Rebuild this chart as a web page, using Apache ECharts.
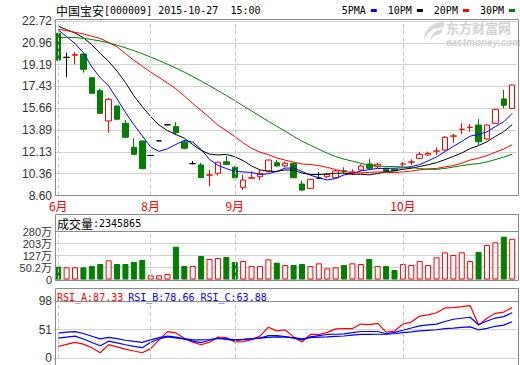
<!DOCTYPE html>
<html><head><meta charset="utf-8">
<script src="https://cdn.jsdelivr.net/npm/echarts@6/dist/echarts.min.js"></script>
<style>html,body{margin:0;padding:0;background:#fff}#c{width:520px;height:365px}</style>
</head><body><div id="c"></div>
<script>
// ---- data ----
const days = Array.from({length: 55}, (_, i) => 'T' + (i + 1));
const monthAt = [0, 11, 21, 41];
const monthNames = ['6月', '8月', '9月', '10月'];

const openP  = [21.72,19.78,19.95,20.05,18.13,17.08,14.63,15.84,14.44,12.50,13.01,11.84,13.02,14.32,14.17,12.93,11.18,11.07,10.25,10.40,11.33,10.88,9.26,10.00,10.12,10.58,11.25,10.99,11.21,9.53,9.18,10.00,10.12,10.04,10.60,10.48,10.66,11.15,10.93,10.80,10.72,11.14,11.30,11.61,11.88,12.19,12.28,13.40,13.95,14.11,14.30,13.17,14.44,16.41,15.65];
const closeP = [19.56,19.78,20.00,18.81,16.87,15.25,16.38,14.77,13.31,11.93,10.77,11.84,13.02,14.32,13.68,12.42,11.18,10.06,10.26,11.29,11.12,10.04,9.85,10.04,10.40,11.47,10.99,11.21,10.04,9.04,9.91,10.00,10.32,10.58,10.56,10.50,10.99,10.80,11.12,10.53,10.60,11.15,11.31,11.93,12.01,12.20,13.31,13.42,13.96,14.12,12.95,14.30,15.57,15.90,17.54];
const lowP   = [19.50,18.16,19.21,18.54,16.85,15.22,13.68,14.74,13.28,11.90,10.72,11.84,13.02,14.32,13.49,12.34,11.12,9.99,9.34,10.20,11.08,9.99,9.04,9.99,9.85,10.44,10.93,10.88,10.00,8.96,9.15,9.95,9.99,10.00,10.40,10.26,10.60,10.66,10.80,10.50,10.55,10.93,11.07,11.53,11.80,11.88,12.25,12.87,13.58,13.76,12.69,13.10,14.40,15.65,15.60];
const highP  = [21.75,20.15,20.21,20.08,18.19,17.22,16.49,15.88,14.71,13.23,13.04,11.84,13.02,14.32,14.53,13.09,11.39,11.25,10.66,11.31,11.82,10.99,10.26,10.53,10.66,11.50,11.47,11.33,11.25,9.80,9.95,10.50,10.44,10.72,10.88,10.72,11.12,11.53,11.25,10.85,10.78,11.33,11.53,12.14,12.14,12.50,13.41,13.58,14.44,14.38,14.77,14.35,15.60,17.14,17.60];

const ma5  = [22.00,21.45,20.90,20.15,19.00,18.14,17.46,16.42,15.32,14.33,13.43,12.52,12.17,12.38,12.73,13.06,12.92,12.33,11.52,11.04,10.78,10.55,10.51,10.47,10.29,10.36,10.55,10.82,10.82,10.55,10.24,10.04,9.86,9.97,10.27,10.39,10.59,10.69,10.79,10.79,10.81,10.84,10.94,11.10,11.40,11.72,12.15,12.57,12.98,13.40,13.55,13.75,14.18,14.57,15.25];
const ma10 = [22.30,22.02,21.75,21.37,20.80,20.10,19.45,18.67,17.74,16.67,15.79,14.99,14.30,13.85,13.53,13.24,12.72,12.25,11.95,11.88,11.92,11.74,11.42,10.99,10.67,10.57,10.55,10.67,10.65,10.42,10.30,10.30,10.34,10.40,10.41,10.32,10.32,10.27,10.38,10.53,10.60,10.72,10.81,10.95,11.09,11.26,11.50,11.76,12.04,12.40,12.64,12.95,13.38,13.77,14.33];
const ma20 = [22.05,21.94,21.80,21.67,21.49,21.31,20.98,20.63,20.09,19.54,19.06,18.59,18.15,17.70,17.24,16.65,16.04,15.48,14.91,14.28,13.85,13.37,12.86,12.42,12.10,11.91,11.64,11.46,11.30,11.15,11.11,11.02,10.88,10.70,10.54,10.44,10.43,10.47,10.51,10.48,10.45,10.51,10.58,10.67,10.75,10.79,10.91,11.02,11.21,11.47,11.62,11.83,12.10,12.36,12.71];
const ma30 = [21.40,21.40,21.38,21.32,21.22,21.10,20.95,20.76,20.55,20.32,20.07,19.80,19.52,19.22,18.91,18.58,18.23,17.86,17.48,17.09,16.69,16.28,15.86,15.44,15.02,14.60,14.20,13.80,13.39,12.99,12.67,12.34,12.02,11.75,11.54,11.38,11.20,11.06,10.99,10.95,10.94,10.92,10.86,10.78,10.72,10.72,10.79,10.90,11.02,11.12,11.18,11.32,11.51,11.71,11.94];

// volume in 万 (10k)
const volume = [55.9,51.6,51.6,51.6,60.1,72.9,96.5,72.9,72.9,85.8,98.6,0.3,0.3,8.9,184.0,60.1,60.1,124.2,105.0,111.4,117.8,85.8,92.2,60.1,60.1,102.9,81.5,66.5,66.5,72.9,60.1,77.2,45.2,51.6,66.5,77.2,72.9,105.0,60.1,60.1,34.5,72.9,66.5,92.2,66.5,115.7,147.8,130.6,147.8,92.2,149.9,194.7,211.9,248.2,234.6];

const rsiA = [22.9,26.5,29.8,26.9,20.9,12.7,26.1,22.4,18.7,15.5,12.6,19.5,33.8,47.5,45.4,36.7,30.1,25.9,30.1,38.6,37.7,30.5,31.1,34.3,40.1,54.8,48.7,50.2,38.8,30.3,42.8,42.8,46.2,52.1,52.6,52.6,60.0,58.9,61.0,46.6,48.3,60.1,63.2,73.1,75.2,78.6,86.5,87.2,88.7,90.5,58.3,69.4,77.7,79.8,87.33];
const rsiB = [36.9,38.5,40.0,35.4,29.6,24.3,31.7,29.0,25.9,23.1,21.0,29.9,35.4,38.8,37.2,35.1,31.8,29.3,33.3,36.9,34.6,33.0,34.3,35.5,36.9,40.9,40.9,39.1,36.9,33.9,38.8,40.9,42.8,43.2,43.8,45.7,47.7,47.7,47.7,44.0,46.3,49.7,53.4,57.1,58.6,59.8,64.2,67.9,69.6,71.2,58.9,65.1,69.9,72.2,78.66];
const rsiC = [45.1,46.6,47.5,44.4,39.8,35.5,38.0,36.0,33.3,31.4,29.8,33.8,37.5,40.1,38.5,36.1,33.9,33.9,34.5,36.4,35.5,34.0,34.8,35.8,36.9,37.9,38.8,38.3,37.7,35.4,37.7,38.3,38.9,39.7,40.3,41.6,42.8,43.1,43.2,43.5,44.0,45.9,47.1,48.7,49.7,50.6,52.4,53.3,54.5,55.4,50.5,52.8,56.3,58.3,63.88];

const priceTicks = ['8.60','10.36','12.13','13.89','15.66','17.43','19.19','20.96','22.72'];
const volTicks = ['0','50.2万','127万','203万','280万'];
const rsiTicks = ['0','51','98'];

// ---- chart ----
const PMIN = 8.60, PMAX = 22.72, PSTEP = (PMAX - PMIN) / 8;
const VOL_FLOOR = 26.4, VSTEP = 76.6;       // bars rise from the panel floor, below zero
const FRAME = '#8a8a8a', GRID = '#d2d2d2', DASH = '#c8c8c8';
const labFont = "'Liberation Sans', Arial, 'Noto Sans CJK SC', sans-serif";
const mono = "'DejaVu Sans Mono', 'Liberation Mono', monospace";
const cjk = "'Noto Sans CJK SC', sans-serif";

const chart = echarts.init(document.getElementById('c'), null, {renderer: 'svg'});

function xAx(gi, showLabel) {
  return {
    type: 'category', gridIndex: gi, data: days, boundaryGap: true,
    axisLine: {show: false}, axisTick: {show: false}, splitLine: {show: false},
    axisLabel: showLabel ? {
      show: true, interval: (idx) => monthAt.includes(idx),
      formatter: (v, idx) => monthNames[monthAt.indexOf(idx)] || '',
      color: '#ff0000', fontSize: 12, fontFamily: cjk, margin: 4
    } : {show: false}
  };
}
function yAx(gi, min, max, interval, fmt, fs, lh) {
  return {
    type: 'value', gridIndex: gi, min, max, interval, scale: true,
    axisLine: {show: false}, axisTick: {show: false},
    splitLine: {show: true, lineStyle: {color: GRID, width: 1}},
    axisLabel: {color: '#333', fontSize: fs, lineHeight: lh, fontFamily: labFont, margin: 2, formatter: fmt,
      showMinLabel: true, showMaxLabel: true}
  };
}
const vmarks = (gi) => ({
  type: 'line', xAxisIndex: gi, yAxisIndex: gi, data: days.map(() => null), z: 1,
  silent: true, symbol: 'none', lineStyle: {opacity: 0},
  markLine: {silent: true, symbol: 'none', label: {show: false}, animation: false,
    lineStyle: {color: DASH, type: [4, 3], width: 1},
    data: monthAt.map(i => ({xAxis: days[i]}))}
});

const up = (i) => closeP[i] >= openP[i];
const rs = (family, size, color) => ({fontFamily: family, fontSize: size, color, fontWeight: 'normal', lineHeight: 12});

chart.setOption({
  animation: false,
  backgroundColor: '#fff',
  title: [
    {left: 56, top: 4, padding: 0, text: '{cn|中国宝安}{en|[000009] 2015-10-27  15:00}',
      textStyle: {fontWeight: 'normal', rich: {cn: rs(cjk, 12, '#000'), en: rs(mono, 10, '#000')}}},
    {left: 57, top: 217, padding: 0, text: '{cn|成交量}{en|:2345865}',
      textStyle: {fontWeight: 'normal', rich: {cn: rs(cjk, 12, '#000'), en: rs(mono, 10, '#000')}}},
    {left: 57, top: 288, padding: 0, text: '{a|RSI_A:87.33} {b|RSI_B:78.66 RSI_C:63.88}',
      textStyle: {fontWeight: 'normal', rich: {a: rs(mono, 10, '#ff0000'), b: rs(mono, 10, '#0000ff')}}},
    {left: 446, top: 21, padding: 0, text: '东方财富网',
      textStyle: {fontFamily: cjk, fontSize: 13, lineHeight: 13, fontWeight: 'bold', color: '#d2d2d2'}},
    {left: 446, top: 38, padding: 0, text: 'eastmoney.com',
      textStyle: {fontFamily: labFont, fontSize: 10, lineHeight: 9, fontWeight: 'bold', fontStyle: 'italic', color: '#d2d2d2'}}
  ],
  legend: {
    data: ['5PMA', '10PM', '20PM', '30PM'], right: 5, top: 5, align: 'right',
    icon: 'rect', itemWidth: 6, itemHeight: 3, itemGap: 11, selectedMode: false, padding: 0,
    textStyle: {fontFamily: mono, fontSize: 10, lineHeight: 11, color: '#000'}
  },
  grid: [
    {left: 54, right: 3.6, top: 21, height: 174.5},
    {left: 54, right: 3.6, top: 231.7, height: 47.8},
    {left: 54, right: 3.6, top: 301, height: 63.5}
  ],
  xAxis: [xAx(0, true), xAx(1, false), xAx(2, false)],
  yAxis: [
    yAx(0, PMIN, PMAX, PSTEP, (v) => priceTicks[Math.round((v - PMIN) / PSTEP)] || '', 12, 14),
    yAx(1, 0, 280 + VOL_FLOOR, VSTEP, (v) => volTicks[Math.round(v / VSTEP)] || '', 11, 11),
    yAx(2, 4, 98, 47, (v) => rsiTicks[Math.round((v - 4) / 47)] || '', 12, 14)
  ],
  graphic: [
    {type: 'polygon', z: 0, silent: true,
      shape: {points: [[444,22],[436,23],[429,27],[425,33],[424,40],[428,33],[434,29],[444,27]]},
      style: {fill: '#d8d8d8'}},
    {type: 'polygon', z: 0, silent: true,
      shape: {points: [[442,29],[436,31],[432,35],[430,41],[434,36],[442,33]]},
      style: {fill: '#d8d8d8'}},
    {type: 'rect', z: 100, silent: true, shape: {x: 55.5, y: 19.5, width: 463, height: 176}, style: {fill: 'none', stroke: FRAME, lineWidth: 1}},
    {type: 'rect', z: 100, silent: true, shape: {x: 55.5, y: 214.5, width: 463, height: 66}, style: {fill: 'none', stroke: FRAME, lineWidth: 1}},
    {type: 'line', z: 100, silent: true, shape: {x1: 55.5, y1: 231.5, x2: 518.5, y2: 231.5}, style: {stroke: FRAME, lineWidth: 1}},
    {type: 'rect', z: 100, silent: true, shape: {x: 55.5, y: 288.5, width: 463, height: 77}, style: {fill: 'none', stroke: FRAME, lineWidth: 1}},
    {type: 'line', z: 100, silent: true, shape: {x1: 55.5, y1: 301.5, x2: 518.5, y2: 301.5}, style: {stroke: FRAME, lineWidth: 1}}
  ],
  series: [
    vmarks(0), vmarks(1), vmarks(2),
    {type: 'candlestick', name: 'K', xAxisIndex: 0, yAxisIndex: 0, barWidth: 6, z: 2,
      data: days.map((d, i) => [openP[i], closeP[i], lowP[i], highP[i]]),
      itemStyle: {color: '#ffffff', color0: '#008000', borderColor: '#ff0000', borderColor0: '#008000',
        borderColorDoji: '#000000', borderWidth: 1}},
    {type: 'line', name: '5PMA', xAxisIndex: 0, yAxisIndex: 0, data: ma5, symbol: 'none', z: 3,
      color: '#0000ff', lineStyle: {color: '#0000ff', width: 1}},
    {type: 'line', name: '10PM', xAxisIndex: 0, yAxisIndex: 0, data: ma10, symbol: 'none', z: 3,
      color: '#000000', lineStyle: {color: '#000000', width: 1}},
    {type: 'line', name: '20PM', xAxisIndex: 0, yAxisIndex: 0, data: ma20, symbol: 'none', z: 3,
      color: '#ff0000', lineStyle: {color: '#ff0000', width: 1}},
    {type: 'line', name: '30PM', xAxisIndex: 0, yAxisIndex: 0, data: ma30, symbol: 'none', z: 3,
      color: '#008000', lineStyle: {color: '#008000', width: 1}},
    {type: 'bar', name: 'VOL', xAxisIndex: 1, yAxisIndex: 1, barWidth: 6, z: 2,
      data: volume.map((v, i) => ({value: v + VOL_FLOOR,
        itemStyle: up(i) ? {color: '#ffffff', borderColor: '#ff0000', borderWidth: 1}
                         : {color: '#008000', borderColor: '#008000', borderWidth: 1}}))},
    {type: 'line', name: 'RSI_A', xAxisIndex: 2, yAxisIndex: 2, data: rsiA, symbol: 'none', z: 3,
      lineStyle: {color: '#ff0000', width: 1.2}},
    {type: 'line', name: 'RSI_B', xAxisIndex: 2, yAxisIndex: 2, data: rsiB, symbol: 'none', z: 3,
      lineStyle: {color: '#0000ff', width: 1.2}},
    {type: 'line', name: 'RSI_C', xAxisIndex: 2, yAxisIndex: 2, data: rsiC, symbol: 'none', z: 3,
      lineStyle: {color: '#0000ff', width: 1.2}}
  ]
});
</script></body></html>
